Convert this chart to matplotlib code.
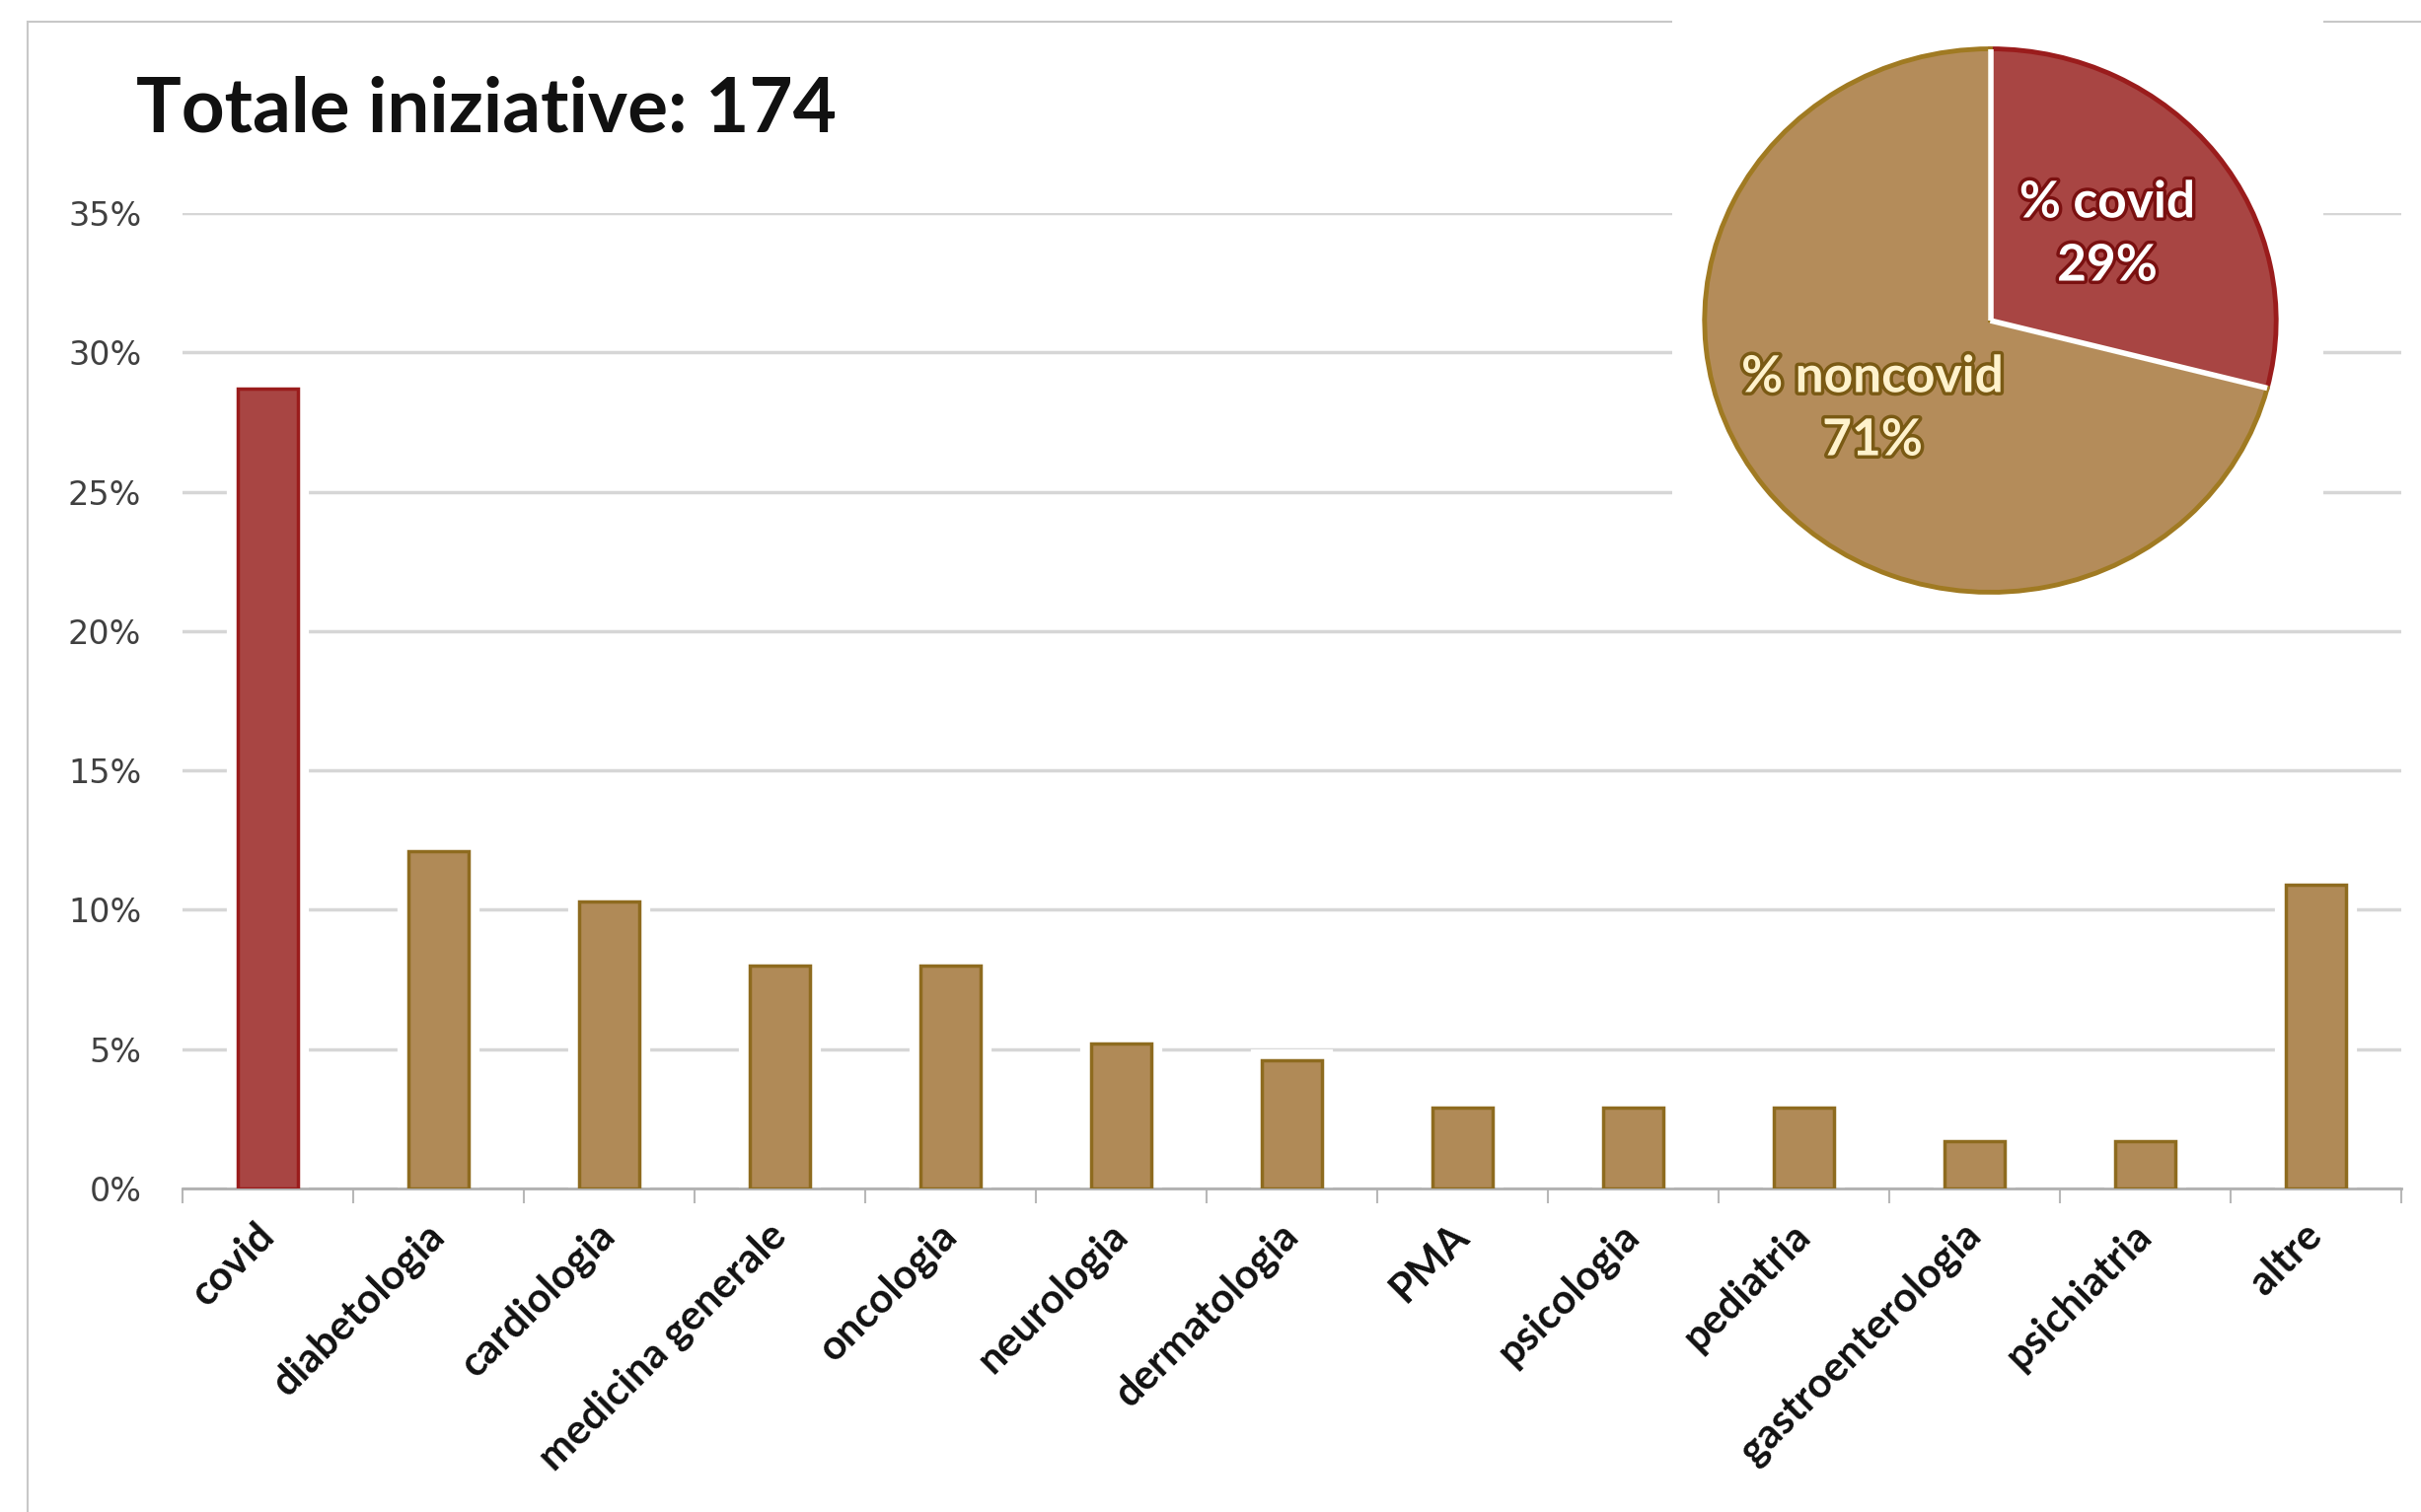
import numpy as np
import matplotlib
matplotlib.use("Agg")
import matplotlib.pyplot as plt
import matplotlib.patheffects as pe
from matplotlib.patches import Rectangle
from matplotlib.lines import Line2D

# ── Dati ─────────────────────────────────────────────────────────────────────
categorie = ["covid", "diabetologia", "cardiologia", "medicina generale", "oncologia",
             "neurologia", "dermatologia", "PMA", "psicologia", "pediatria",
             "gastroenterologia", "psichiatria", "altre"]
percentuali = [28.7, 12.1, 10.3, 8.0, 8.0, 5.2, 4.6, 2.9, 2.9, 2.9, 1.7, 1.7, 10.9]
torta_etichette = ["% covid", "% noncovid"]
torta_valori = [29, 71]
totale = 174

# ── Colori ───────────────────────────────────────────────────────────────────
ROSSO, ROSSO_BORDO = "#A84543", "#9A1C1C"
ORO, ORO_BORDO = "#B08A57", "#8E6B1F"
GRIGLIA = "#D6D6D6"

W, H = 2454, 1533
fig = plt.figure(figsize=(W / 100, H / 100), dpi=100)
fig.patch.set_facecolor("white")

# cornice esterna (solo sinistra e sopra)
fig.add_artist(Line2D([28 / W, 28 / W], [0, 1 - 22 / H], transform=fig.transFigure,
                      color="#C8C8C8", lw=1.5, zorder=0.5))
fig.add_artist(Line2D([28 / W, 1], [1 - 22 / H, 1 - 22 / H], transform=fig.transFigure,
                      color="#C8C8C8", lw=1.5, zorder=0.5))

# ── Barre ────────────────────────────────────────────────────────────────────
ax = fig.add_axes([185 / W, 1 - 1205 / H, (2434 - 185) / W, (1205 - 216) / H])
ax.set_facecolor("none")
x = np.arange(len(categorie))
colori = [ROSSO if c == "covid" else ORO for c in categorie]
bordi = [ROSSO_BORDO if c == "covid" else ORO_BORDO for c in categorie]
ax.bar(x, percentuali, width=0.35, color="white", edgecolor="white", linewidth=16, zorder=2)
ax.bar(x, percentuali, width=0.35, color=colori, edgecolor=bordi, linewidth=2.5, zorder=3)

ax.set_xlim(-0.5, len(categorie) - 0.5)
ax.set_ylim(0, 35)
ax.set_yticks(np.arange(0, 36, 5))
ax.set_yticklabels([f"{v}%" for v in range(0, 36, 5)], fontsize=24,
                   color="#404040", family="DejaVu Sans")
ax.tick_params(axis="y", length=0, pad=30)
ax.yaxis.grid(True, color=GRIGLIA, lw=2.5, zorder=0)
ax.set_axisbelow(True)

ax.set_xticks(x)
ax.set_xticklabels(categorie, rotation=45, ha="right", va="center",
                   rotation_mode="anchor", fontsize=30, fontweight="bold",
                   family="Lato", color="#111111")
ax.tick_params(axis="x", which="major", length=0, pad=30)
ax.set_xticks(np.arange(-0.5, len(categorie), 1), minor=True)
ax.tick_params(axis="x", which="minor", length=11, width=1.5, color="#B8B8B8")

for s in ["left", "right", "top"]:
    ax.spines[s].set_visible(False)
ax.spines["bottom"].set_color("#B0B0B0")
ax.spines["bottom"].set_linewidth(2)

fig.text(138 / W, 1 - 134 / H, f"Totale iniziative: {totale}", fontsize=55,
         fontweight="bold", family="Lato", color="#111111", va="baseline")

# ── Torta ────────────────────────────────────────────────────────────────────
fig.add_artist(Rectangle((1695 / W, 1 - 618 / H), (2355 - 1695) / W, 618 / H,
                         transform=fig.transFigure, facecolor="white",
                         edgecolor="none", zorder=1))
axp = fig.add_axes([1722 / W, 1 - 606 / H, 591 / W, 562 / H], zorder=2)
axp.set_facecolor("none")
wedges, _ = axp.pie(torta_valori, colors=[ROSSO, "#B48C5A"], startangle=90,
                    counterclock=False, radius=1, center=(0, 0),
                    wedgeprops=dict(linewidth=3.5))
for w, ec in zip(wedges, [ROSSO_BORDO, "#A07A22"]):
    w.set_edgecolor(ec)
for ang in [wedges[0].theta1, wedges[0].theta2]:
    t = np.deg2rad(ang)
    axp.plot([0, np.cos(t)], [0, np.sin(t)], color="white", lw=4, zorder=5,
             solid_capstyle="butt")
axp.set_xlim(-1.02, 1.02)
axp.set_ylim(-1.02, 1.02)
axp.set_aspect("auto")
axp.axis("off")

fig.text(2136 / W, 1 - 238 / H, f"{torta_etichette[0]}\n{torta_valori[0]}%",
         fontsize=37, fontweight="bold", family="Lato", color="white",
         ha="center", va="center", linespacing=1.45,
         path_effects=[pe.withStroke(linewidth=5, foreground="#7A1010")], zorder=3)
fig.text(1898 / W, 1 - 415 / H, f"{torta_etichette[1]}\n{torta_valori[1]}%",
         fontsize=37, fontweight="bold", family="Lato", color="#FFF2CC",
         ha="center", va="center", linespacing=1.45,
         path_effects=[pe.withStroke(linewidth=5, foreground="#7A5A14")], zorder=3)

fig.savefig("out.png", dpi=100, facecolor="white")
